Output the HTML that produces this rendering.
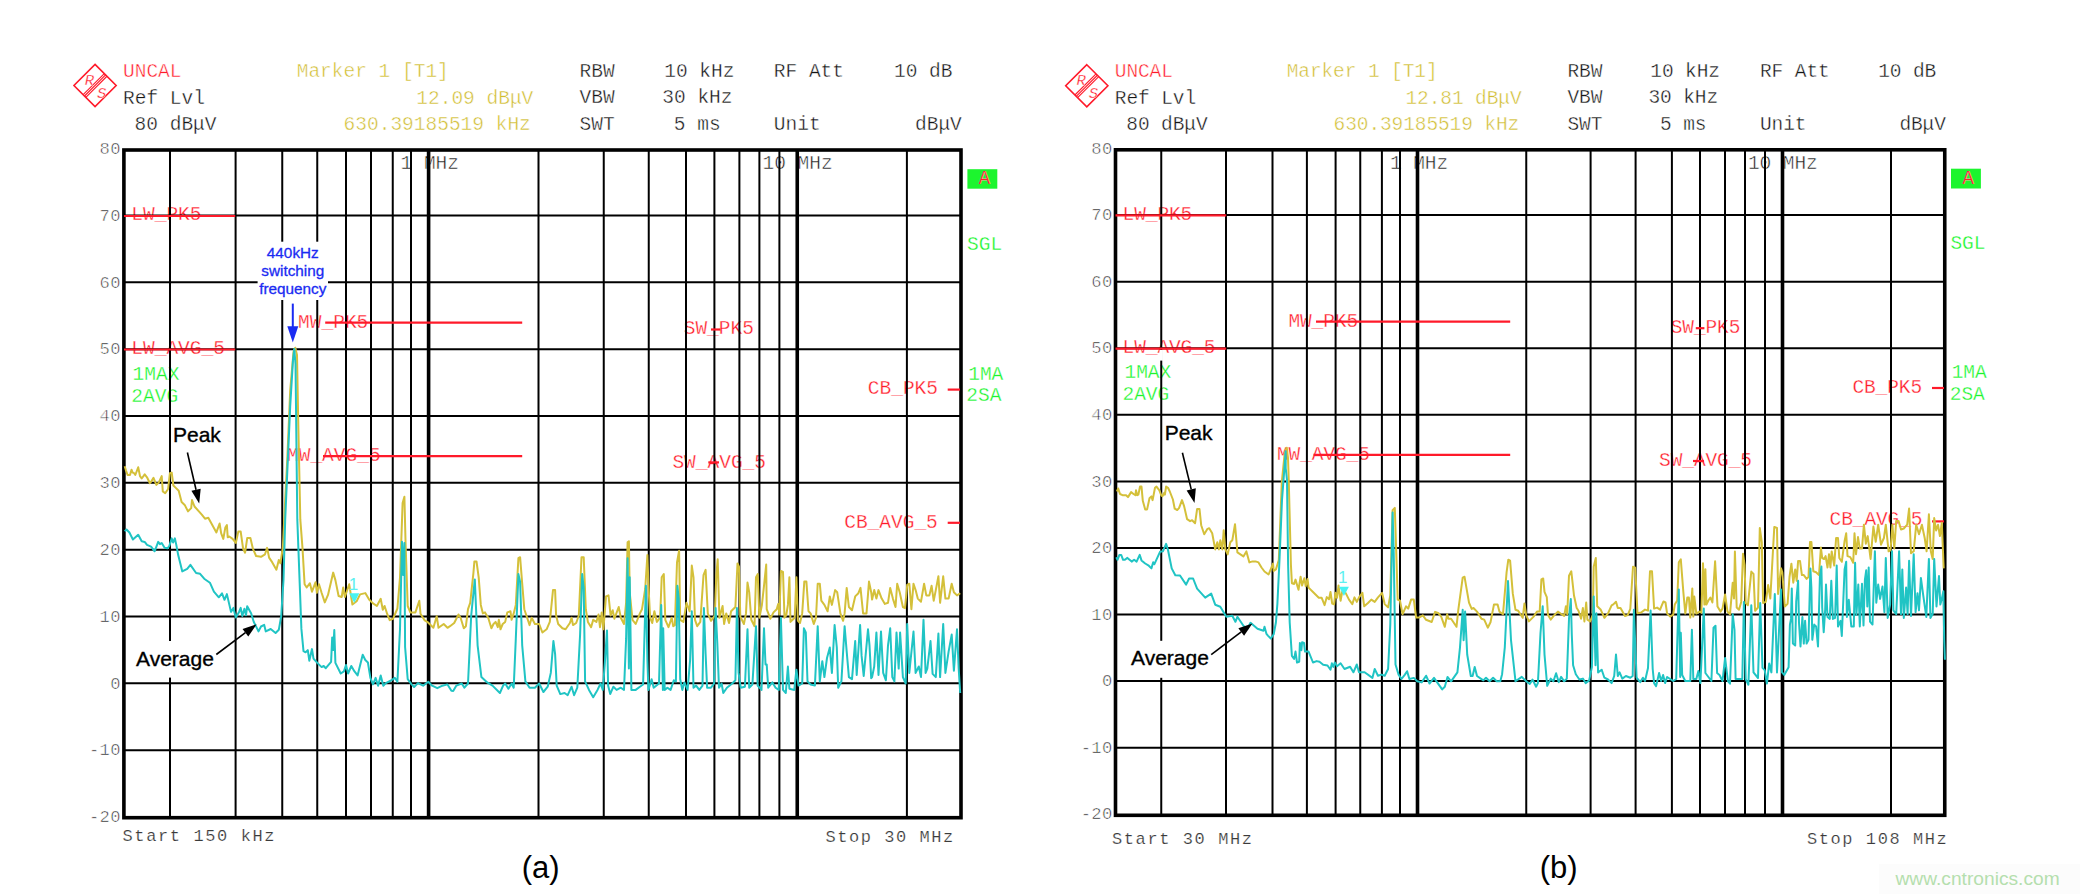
<!DOCTYPE html><html><head><meta charset="utf-8"><style>html,body{margin:0;padding:0;background:#fff;width:2080px;height:894px;overflow:hidden}svg{display:block}</style></head><body>
<svg width="2080" height="894" viewBox="0 0 2080 894">
<rect width="2080" height="894" fill="#fff"/>
<text x="123.00" y="76.70" font-family="Liberation Mono, monospace" font-size="19.5" letter-spacing="0.000" fill="#ff1a2a" stroke="#fff" stroke-width="0.45" >UNCAL</text>
<text x="296.70" y="76.60" font-family="Liberation Mono, monospace" font-size="19.5" letter-spacing="0.000" fill="#d0bc30" stroke="#fff" stroke-width="0.45" >Marker 1 [T1]</text>
<text x="579.60" y="76.50" font-family="Liberation Mono, monospace" font-size="19.5" letter-spacing="0.000" fill="#151515" stroke="#fff" stroke-width="0.38" >RBW</text>
<text x="664.20" y="76.50" font-family="Liberation Mono, monospace" font-size="19.5" letter-spacing="0.000" fill="#151515" stroke="#fff" stroke-width="0.38" >10 kHz</text>
<text x="773.80" y="76.50" font-family="Liberation Mono, monospace" font-size="19.5" letter-spacing="0.000" fill="#151515" stroke="#fff" stroke-width="0.38" >RF Att</text>
<text x="894.00" y="76.50" font-family="Liberation Mono, monospace" font-size="19.5" letter-spacing="0.000" fill="#151515" stroke="#fff" stroke-width="0.38" >10 dB</text>
<text x="123.00" y="103.50" font-family="Liberation Mono, monospace" font-size="19.5" letter-spacing="0.000" fill="#151515" stroke="#fff" stroke-width="0.38" >Ref Lvl</text>
<text x="416.30" y="103.70" font-family="Liberation Mono, monospace" font-size="19.5" letter-spacing="0.000" fill="#d0bc30" stroke="#fff" stroke-width="0.45" >12.09 dBμV</text>
<text x="579.60" y="103.20" font-family="Liberation Mono, monospace" font-size="19.5" letter-spacing="0.000" fill="#151515" stroke="#fff" stroke-width="0.38" >VBW</text>
<text x="662.30" y="103.20" font-family="Liberation Mono, monospace" font-size="19.5" letter-spacing="0.000" fill="#151515" stroke="#fff" stroke-width="0.38" >30 kHz</text>
<text x="134.60" y="130.20" font-family="Liberation Mono, monospace" font-size="19.5" letter-spacing="0.000" fill="#151515" stroke="#fff" stroke-width="0.38" >80 dBμV</text>
<text x="343.60" y="130.20" font-family="Liberation Mono, monospace" font-size="19.5" letter-spacing="0.000" fill="#d0bc30" stroke="#fff" stroke-width="0.45" >630.39185519 kHz</text>
<text x="579.60" y="129.80" font-family="Liberation Mono, monospace" font-size="19.5" letter-spacing="0.000" fill="#151515" stroke="#fff" stroke-width="0.38" >SWT</text>
<text x="673.80" y="129.80" font-family="Liberation Mono, monospace" font-size="19.5" letter-spacing="0.000" fill="#151515" stroke="#fff" stroke-width="0.38" >5 ms</text>
<text x="773.80" y="129.80" font-family="Liberation Mono, monospace" font-size="19.5" letter-spacing="0.000" fill="#151515" stroke="#fff" stroke-width="0.38" >Unit</text>
<text x="915.00" y="129.80" font-family="Liberation Mono, monospace" font-size="19.5" letter-spacing="0.000" fill="#151515" stroke="#fff" stroke-width="0.38" >dBμV</text>
<text x="1114.80" y="76.70" font-family="Liberation Mono, monospace" font-size="19.5" letter-spacing="-0.100" fill="#ff1a2a" stroke="#fff" stroke-width="0.45" >UNCAL</text>
<text x="1286.70" y="76.60" font-family="Liberation Mono, monospace" font-size="19.5" letter-spacing="-0.100" fill="#d0bc30" stroke="#fff" stroke-width="0.45" >Marker 1 [T1]</text>
<text x="1567.50" y="76.50" font-family="Liberation Mono, monospace" font-size="19.5" letter-spacing="-0.100" fill="#151515" stroke="#fff" stroke-width="0.38" >RBW</text>
<text x="1650.30" y="76.50" font-family="Liberation Mono, monospace" font-size="19.5" letter-spacing="-0.100" fill="#151515" stroke="#fff" stroke-width="0.38" >10 kHz</text>
<text x="1760.00" y="76.50" font-family="Liberation Mono, monospace" font-size="19.5" letter-spacing="-0.100" fill="#151515" stroke="#fff" stroke-width="0.38" >RF Att</text>
<text x="1878.20" y="76.50" font-family="Liberation Mono, monospace" font-size="19.5" letter-spacing="-0.100" fill="#151515" stroke="#fff" stroke-width="0.38" >10 dB</text>
<text x="1114.80" y="103.50" font-family="Liberation Mono, monospace" font-size="19.5" letter-spacing="-0.100" fill="#151515" stroke="#fff" stroke-width="0.38" >Ref Lvl</text>
<text x="1405.50" y="103.70" font-family="Liberation Mono, monospace" font-size="19.5" letter-spacing="-0.100" fill="#d0bc30" stroke="#fff" stroke-width="0.45" >12.81 dBμV</text>
<text x="1567.50" y="103.20" font-family="Liberation Mono, monospace" font-size="19.5" letter-spacing="-0.100" fill="#151515" stroke="#fff" stroke-width="0.38" >VBW</text>
<text x="1648.40" y="103.20" font-family="Liberation Mono, monospace" font-size="19.5" letter-spacing="-0.100" fill="#151515" stroke="#fff" stroke-width="0.38" >30 kHz</text>
<text x="1126.30" y="130.20" font-family="Liberation Mono, monospace" font-size="19.5" letter-spacing="-0.100" fill="#151515" stroke="#fff" stroke-width="0.38" >80 dBμV</text>
<text x="1333.60" y="130.20" font-family="Liberation Mono, monospace" font-size="19.5" letter-spacing="-0.100" fill="#d0bc30" stroke="#fff" stroke-width="0.45" >630.39185519 kHz</text>
<text x="1567.50" y="129.80" font-family="Liberation Mono, monospace" font-size="19.5" letter-spacing="-0.100" fill="#151515" stroke="#fff" stroke-width="0.38" >SWT</text>
<text x="1660.00" y="129.80" font-family="Liberation Mono, monospace" font-size="19.5" letter-spacing="-0.100" fill="#151515" stroke="#fff" stroke-width="0.38" >5 ms</text>
<text x="1760.00" y="129.80" font-family="Liberation Mono, monospace" font-size="19.5" letter-spacing="-0.100" fill="#151515" stroke="#fff" stroke-width="0.38" >Unit</text>
<text x="1899.40" y="129.80" font-family="Liberation Mono, monospace" font-size="19.5" letter-spacing="-0.100" fill="#151515" stroke="#fff" stroke-width="0.38" >dBμV</text>
<text x="400.50" y="169.00" font-family="Liberation Mono, monospace" font-size="19.5" letter-spacing="0.000" fill="#1a1a1a" stroke="#fff" stroke-width="0.5" >1 MHz</text>
<text x="762.50" y="169.00" font-family="Liberation Mono, monospace" font-size="19.5" letter-spacing="0.000" fill="#1a1a1a" stroke="#fff" stroke-width="0.5" >10 MHz</text>
<text x="1390.00" y="169.00" font-family="Liberation Mono, monospace" font-size="19.5" letter-spacing="-0.100" fill="#1a1a1a" stroke="#fff" stroke-width="0.5" >1 MHz</text>
<text x="1748.00" y="169.00" font-family="Liberation Mono, monospace" font-size="19.5" letter-spacing="-0.100" fill="#1a1a1a" stroke="#fff" stroke-width="0.5" >10 MHz</text>
<text x="120.80" y="153.90" font-family="Liberation Mono, monospace" font-size="17.2" letter-spacing="0.3" text-anchor="end" fill="#222" stroke="#fff" stroke-width="0.6">80</text>
<text x="120.80" y="220.73" font-family="Liberation Mono, monospace" font-size="17.2" letter-spacing="0.3" text-anchor="end" fill="#222" stroke="#fff" stroke-width="0.6">70</text>
<text x="120.80" y="287.56" font-family="Liberation Mono, monospace" font-size="17.2" letter-spacing="0.3" text-anchor="end" fill="#222" stroke="#fff" stroke-width="0.6">60</text>
<text x="120.80" y="354.39" font-family="Liberation Mono, monospace" font-size="17.2" letter-spacing="0.3" text-anchor="end" fill="#222" stroke="#fff" stroke-width="0.6">50</text>
<text x="120.80" y="421.22" font-family="Liberation Mono, monospace" font-size="17.2" letter-spacing="0.3" text-anchor="end" fill="#222" stroke="#fff" stroke-width="0.6">40</text>
<text x="120.80" y="488.05" font-family="Liberation Mono, monospace" font-size="17.2" letter-spacing="0.3" text-anchor="end" fill="#222" stroke="#fff" stroke-width="0.6">30</text>
<text x="120.80" y="554.88" font-family="Liberation Mono, monospace" font-size="17.2" letter-spacing="0.3" text-anchor="end" fill="#222" stroke="#fff" stroke-width="0.6">20</text>
<text x="120.80" y="621.71" font-family="Liberation Mono, monospace" font-size="17.2" letter-spacing="0.3" text-anchor="end" fill="#222" stroke="#fff" stroke-width="0.6">10</text>
<text x="120.80" y="688.54" font-family="Liberation Mono, monospace" font-size="17.2" letter-spacing="0.3" text-anchor="end" fill="#222" stroke="#fff" stroke-width="0.6">0</text>
<text x="120.80" y="755.37" font-family="Liberation Mono, monospace" font-size="17.2" letter-spacing="0.3" text-anchor="end" fill="#222" stroke="#fff" stroke-width="0.6">-10</text>
<text x="120.80" y="822.20" font-family="Liberation Mono, monospace" font-size="17.2" letter-spacing="0.3" text-anchor="end" fill="#222" stroke="#fff" stroke-width="0.6">-20</text>
<text x="1112.50" y="153.70" font-family="Liberation Mono, monospace" font-size="17.2" letter-spacing="0.3" text-anchor="end" fill="#222" stroke="#fff" stroke-width="0.6">80</text>
<text x="1112.50" y="220.27" font-family="Liberation Mono, monospace" font-size="17.2" letter-spacing="0.3" text-anchor="end" fill="#222" stroke="#fff" stroke-width="0.6">70</text>
<text x="1112.50" y="286.85" font-family="Liberation Mono, monospace" font-size="17.2" letter-spacing="0.3" text-anchor="end" fill="#222" stroke="#fff" stroke-width="0.6">60</text>
<text x="1112.50" y="353.43" font-family="Liberation Mono, monospace" font-size="17.2" letter-spacing="0.3" text-anchor="end" fill="#222" stroke="#fff" stroke-width="0.6">50</text>
<text x="1112.50" y="420.00" font-family="Liberation Mono, monospace" font-size="17.2" letter-spacing="0.3" text-anchor="end" fill="#222" stroke="#fff" stroke-width="0.6">40</text>
<text x="1112.50" y="486.57" font-family="Liberation Mono, monospace" font-size="17.2" letter-spacing="0.3" text-anchor="end" fill="#222" stroke="#fff" stroke-width="0.6">30</text>
<text x="1112.50" y="553.15" font-family="Liberation Mono, monospace" font-size="17.2" letter-spacing="0.3" text-anchor="end" fill="#222" stroke="#fff" stroke-width="0.6">20</text>
<text x="1112.50" y="619.73" font-family="Liberation Mono, monospace" font-size="17.2" letter-spacing="0.3" text-anchor="end" fill="#222" stroke="#fff" stroke-width="0.6">10</text>
<text x="1112.50" y="686.30" font-family="Liberation Mono, monospace" font-size="17.2" letter-spacing="0.3" text-anchor="end" fill="#222" stroke="#fff" stroke-width="0.6">0</text>
<text x="1112.50" y="752.88" font-family="Liberation Mono, monospace" font-size="17.2" letter-spacing="0.3" text-anchor="end" fill="#222" stroke="#fff" stroke-width="0.6">-10</text>
<text x="1112.50" y="819.45" font-family="Liberation Mono, monospace" font-size="17.2" letter-spacing="0.3" text-anchor="end" fill="#222" stroke="#fff" stroke-width="0.6">-20</text>
<text x="131.30" y="220.20" font-family="Liberation Mono, monospace" font-size="19.5" letter-spacing="0.000" fill="#ff1a2a" stroke="#fff" stroke-width="0.3" >LW_PK5</text>
<text x="131.30" y="353.90" font-family="Liberation Mono, monospace" font-size="19.5" letter-spacing="0.000" fill="#ff1a2a" stroke="#fff" stroke-width="0.3" >LW_AVG_5</text>
<text x="298.10" y="327.90" font-family="Liberation Mono, monospace" font-size="19.5" letter-spacing="0.000" fill="#ff1a2a" stroke="#fff" stroke-width="0.3" >MW_PK5</text>
<text x="287.00" y="461.00" font-family="Liberation Mono, monospace" font-size="19.5" letter-spacing="0.000" fill="#ff1a2a" stroke="#fff" stroke-width="0.3" >MW_AVG_5</text>
<text x="683.70" y="333.50" font-family="Liberation Mono, monospace" font-size="19.5" letter-spacing="0.000" fill="#ff1a2a" stroke="#fff" stroke-width="0.3" >SW_PK5</text>
<text x="672.40" y="467.70" font-family="Liberation Mono, monospace" font-size="19.5" letter-spacing="0.000" fill="#ff1a2a" stroke="#fff" stroke-width="0.3" >SW_AVG_5</text>
<text x="867.80" y="394.00" font-family="Liberation Mono, monospace" font-size="19.5" letter-spacing="0.000" fill="#ff1a2a" stroke="#fff" stroke-width="0.3" >CB_PK5</text>
<text x="844.20" y="528.10" font-family="Liberation Mono, monospace" font-size="19.5" letter-spacing="0.000" fill="#ff1a2a" stroke="#fff" stroke-width="0.3" >CB_AVG_5</text>
<text x="132.60" y="379.80" font-family="Liberation Mono, monospace" font-size="19.5" letter-spacing="0.000" fill="#1cf52e" stroke="#fff" stroke-width="0.3" >1MAX</text>
<text x="131.30" y="401.50" font-family="Liberation Mono, monospace" font-size="19.5" letter-spacing="0.000" fill="#1cf52e" stroke="#fff" stroke-width="0.3" >2AVG</text>
<text x="968.20" y="379.70" font-family="Liberation Mono, monospace" font-size="19.5" letter-spacing="0.000" fill="#1cf52e" stroke="#fff" stroke-width="0.3" >1MA</text>
<text x="966.30" y="401.40" font-family="Liberation Mono, monospace" font-size="19.5" letter-spacing="0.000" fill="#1cf52e" stroke="#fff" stroke-width="0.3" >2SA</text>
<text x="967.00" y="249.50" font-family="Liberation Mono, monospace" font-size="19.5" letter-spacing="0.000" fill="#1cf52e" stroke="#fff" stroke-width="0.3" >SGL</text>
<rect x="967.4" y="169.2" width="29.9" height="19.5" fill="#1cf52e"/>
<text x="978.60" y="184.40" font-family="Liberation Mono, monospace" font-size="19.5" letter-spacing="0.000" fill="#ff1a2a" stroke="#fff" stroke-width="0.2" >A</text>
<text x="1122.60" y="219.60" font-family="Liberation Mono, monospace" font-size="19.5" letter-spacing="-0.100" fill="#ff1a2a" stroke="#fff" stroke-width="0.3" >LW_PK5</text>
<text x="1122.60" y="353.00" font-family="Liberation Mono, monospace" font-size="19.5" letter-spacing="-0.100" fill="#ff1a2a" stroke="#fff" stroke-width="0.3" >LW_AVG_5</text>
<text x="1288.40" y="326.90" font-family="Liberation Mono, monospace" font-size="19.5" letter-spacing="-0.100" fill="#ff1a2a" stroke="#fff" stroke-width="0.3" >MW_PK5</text>
<text x="1277.00" y="460.20" font-family="Liberation Mono, monospace" font-size="19.5" letter-spacing="-0.100" fill="#ff1a2a" stroke="#fff" stroke-width="0.3" >MW_AVG_5</text>
<text x="1670.70" y="333.00" font-family="Liberation Mono, monospace" font-size="19.5" letter-spacing="-0.100" fill="#ff1a2a" stroke="#fff" stroke-width="0.3" >SW_PK5</text>
<text x="1659.10" y="466.40" font-family="Liberation Mono, monospace" font-size="19.5" letter-spacing="-0.100" fill="#ff1a2a" stroke="#fff" stroke-width="0.3" >SW_AVG_5</text>
<text x="1852.40" y="392.60" font-family="Liberation Mono, monospace" font-size="19.5" letter-spacing="-0.100" fill="#ff1a2a" stroke="#fff" stroke-width="0.3" >CB_PK5</text>
<text x="1829.60" y="524.90" font-family="Liberation Mono, monospace" font-size="19.5" letter-spacing="-0.100" fill="#ff1a2a" stroke="#fff" stroke-width="0.3" >CB_AVG_5</text>
<text x="1124.60" y="378.20" font-family="Liberation Mono, monospace" font-size="19.5" letter-spacing="-0.100" fill="#1cf52e" stroke="#fff" stroke-width="0.3" >1MAX</text>
<text x="1122.60" y="400.30" font-family="Liberation Mono, monospace" font-size="19.5" letter-spacing="-0.100" fill="#1cf52e" stroke="#fff" stroke-width="0.3" >2AVG</text>
<text x="1951.70" y="378.40" font-family="Liberation Mono, monospace" font-size="19.5" letter-spacing="-0.100" fill="#1cf52e" stroke="#fff" stroke-width="0.3" >1MA</text>
<text x="1949.80" y="399.80" font-family="Liberation Mono, monospace" font-size="19.5" letter-spacing="-0.100" fill="#1cf52e" stroke="#fff" stroke-width="0.3" >2SA</text>
<text x="1950.50" y="248.90" font-family="Liberation Mono, monospace" font-size="19.5" letter-spacing="-0.100" fill="#1cf52e" stroke="#fff" stroke-width="0.3" >SGL</text>
<rect x="1951" y="168.7" width="29.9" height="19.8" fill="#1cf52e"/>
<text x="1962.30" y="184.20" font-family="Liberation Mono, monospace" font-size="19.5" letter-spacing="0.000" fill="#ff1a2a" stroke="#fff" stroke-width="0.2" >A</text>
<line x1="123.9" y1="215.53" x2="961.0" y2="215.53" stroke="#000" stroke-width="2"/>
<line x1="123.9" y1="282.36" x2="961.0" y2="282.36" stroke="#000" stroke-width="2"/>
<line x1="123.9" y1="349.19" x2="961.0" y2="349.19" stroke="#000" stroke-width="2"/>
<line x1="123.9" y1="416.02" x2="961.0" y2="416.02" stroke="#000" stroke-width="2"/>
<line x1="123.9" y1="482.85" x2="961.0" y2="482.85" stroke="#000" stroke-width="2"/>
<line x1="123.9" y1="549.68" x2="961.0" y2="549.68" stroke="#000" stroke-width="2"/>
<line x1="123.9" y1="616.51" x2="961.0" y2="616.51" stroke="#000" stroke-width="2"/>
<line x1="123.9" y1="683.34" x2="961.0" y2="683.34" stroke="#000" stroke-width="2"/>
<line x1="123.9" y1="750.17" x2="961.0" y2="750.17" stroke="#000" stroke-width="2"/>
<line x1="170" y1="150.0" x2="170" y2="817.7" stroke="#000" stroke-width="2"/>
<line x1="235.6" y1="150.0" x2="235.6" y2="817.7" stroke="#000" stroke-width="2"/>
<line x1="282.25" y1="150.0" x2="282.25" y2="817.7" stroke="#000" stroke-width="2"/>
<line x1="317.25" y1="150.0" x2="317.25" y2="817.7" stroke="#000" stroke-width="2"/>
<line x1="346" y1="150.0" x2="346" y2="817.7" stroke="#000" stroke-width="2"/>
<line x1="371" y1="150.0" x2="371" y2="817.7" stroke="#000" stroke-width="2"/>
<line x1="392.75" y1="150.0" x2="392.75" y2="817.7" stroke="#000" stroke-width="2"/>
<line x1="411" y1="150.0" x2="411" y2="817.7" stroke="#000" stroke-width="2"/>
<line x1="538.5" y1="150.0" x2="538.5" y2="817.7" stroke="#000" stroke-width="2"/>
<line x1="603.75" y1="150.0" x2="603.75" y2="817.7" stroke="#000" stroke-width="2"/>
<line x1="648.75" y1="150.0" x2="648.75" y2="817.7" stroke="#000" stroke-width="2"/>
<line x1="686" y1="150.0" x2="686" y2="817.7" stroke="#000" stroke-width="2"/>
<line x1="714.4" y1="150.0" x2="714.4" y2="817.7" stroke="#000" stroke-width="2"/>
<line x1="739.4" y1="150.0" x2="739.4" y2="817.7" stroke="#000" stroke-width="2"/>
<line x1="759.4" y1="150.0" x2="759.4" y2="817.7" stroke="#000" stroke-width="2"/>
<line x1="779.4" y1="150.0" x2="779.4" y2="817.7" stroke="#000" stroke-width="2"/>
<line x1="906.9" y1="150.0" x2="906.9" y2="817.7" stroke="#000" stroke-width="2"/>
<line x1="428.6" y1="150.0" x2="428.6" y2="817.7" stroke="#000" stroke-width="3.6"/>
<line x1="797.25" y1="150.0" x2="797.25" y2="817.7" stroke="#000" stroke-width="3.6"/>
<rect x="123.9" y="150.0" width="837.1" height="667.7" fill="none" stroke="#000" stroke-width="3.6"/>
<line x1="1115.5" y1="215.07" x2="1944.75" y2="215.07" stroke="#000" stroke-width="2"/>
<line x1="1115.5" y1="281.65" x2="1944.75" y2="281.65" stroke="#000" stroke-width="2"/>
<line x1="1115.5" y1="348.23" x2="1944.75" y2="348.23" stroke="#000" stroke-width="2"/>
<line x1="1115.5" y1="414.80" x2="1944.75" y2="414.80" stroke="#000" stroke-width="2"/>
<line x1="1115.5" y1="481.38" x2="1944.75" y2="481.38" stroke="#000" stroke-width="2"/>
<line x1="1115.5" y1="547.95" x2="1944.75" y2="547.95" stroke="#000" stroke-width="2"/>
<line x1="1115.5" y1="614.53" x2="1944.75" y2="614.53" stroke="#000" stroke-width="2"/>
<line x1="1115.5" y1="681.10" x2="1944.75" y2="681.10" stroke="#000" stroke-width="2"/>
<line x1="1115.5" y1="747.68" x2="1944.75" y2="747.68" stroke="#000" stroke-width="2"/>
<line x1="1161.25" y1="149.8" x2="1161.25" y2="815.3" stroke="#000" stroke-width="2"/>
<line x1="1226" y1="149.8" x2="1226" y2="815.3" stroke="#000" stroke-width="2"/>
<line x1="1272.5" y1="149.8" x2="1272.5" y2="815.3" stroke="#000" stroke-width="2"/>
<line x1="1306.9" y1="149.8" x2="1306.9" y2="815.3" stroke="#000" stroke-width="2"/>
<line x1="1335.6" y1="149.8" x2="1335.6" y2="815.3" stroke="#000" stroke-width="2"/>
<line x1="1360.25" y1="149.8" x2="1360.25" y2="815.3" stroke="#000" stroke-width="2"/>
<line x1="1381.9" y1="149.8" x2="1381.9" y2="815.3" stroke="#000" stroke-width="2"/>
<line x1="1400" y1="149.8" x2="1400" y2="815.3" stroke="#000" stroke-width="2"/>
<line x1="1526.25" y1="149.8" x2="1526.25" y2="815.3" stroke="#000" stroke-width="2"/>
<line x1="1590.6" y1="149.8" x2="1590.6" y2="815.3" stroke="#000" stroke-width="2"/>
<line x1="1635.6" y1="149.8" x2="1635.6" y2="815.3" stroke="#000" stroke-width="2"/>
<line x1="1671.9" y1="149.8" x2="1671.9" y2="815.3" stroke="#000" stroke-width="2"/>
<line x1="1700" y1="149.8" x2="1700" y2="815.3" stroke="#000" stroke-width="2"/>
<line x1="1725" y1="149.8" x2="1725" y2="815.3" stroke="#000" stroke-width="2"/>
<line x1="1745" y1="149.8" x2="1745" y2="815.3" stroke="#000" stroke-width="2"/>
<line x1="1765" y1="149.8" x2="1765" y2="815.3" stroke="#000" stroke-width="2"/>
<line x1="1891" y1="149.8" x2="1891" y2="815.3" stroke="#000" stroke-width="2"/>
<line x1="1417.5" y1="149.8" x2="1417.5" y2="815.3" stroke="#000" stroke-width="3.6"/>
<line x1="1782.5" y1="149.8" x2="1782.5" y2="815.3" stroke="#000" stroke-width="3.6"/>
<rect x="1115.5" y="149.8" width="829.25" height="665.5" fill="none" stroke="#000" stroke-width="3.6"/>
<text x="122.50" y="841.00" font-family="Liberation Mono, monospace" font-size="17" fill="#3a3a3a" stroke="#fff" stroke-width="0.2" textLength="152.0" lengthAdjust="spacing">Start 150 kHz</text>
<text x="825.50" y="842.00" font-family="Liberation Mono, monospace" font-size="17" fill="#3a3a3a" stroke="#fff" stroke-width="0.2" textLength="127.8" lengthAdjust="spacing">Stop 30 MHz</text>
<text x="1112.00" y="844.00" font-family="Liberation Mono, monospace" font-size="17" fill="#3a3a3a" stroke="#fff" stroke-width="0.2" textLength="140.0" lengthAdjust="spacing">Start 30 MHz</text>
<text x="1807.10" y="844.00" font-family="Liberation Mono, monospace" font-size="17" fill="#3a3a3a" stroke="#fff" stroke-width="0.2" textLength="139.5" lengthAdjust="spacing">Stop 108 MHz</text>
<text x="540.70" y="878.00" font-family="Liberation Sans, sans-serif" font-size="31" fill="#000" text-anchor="middle" >(a)</text>
<text x="1558.70" y="877.60" font-family="Liberation Sans, sans-serif" font-size="31" fill="#000" text-anchor="middle" >(b)</text>
<rect x="1879" y="864" width="201" height="30" fill="#fcfcfc"/>
<text x="1895.50" y="885.00" font-family="Liberation Sans, sans-serif" font-size="19.2" fill="#b5dfae" text-anchor="start" >www.cntronics.com</text>
<path d="M95.05 64.35 L116.15 85.45 L95.05 106.55000000000001 L73.94999999999999 85.45 Z" fill="none" stroke="#ff1a2a" stroke-width="1.6"/>
<line x1="104.26" y1="73.56" x2="83.16" y2="94.66" stroke="#ff1a2a" stroke-width="1.1"/>
<line x1="105.60" y1="74.90" x2="84.50" y2="96.00" stroke="#ff1a2a" stroke-width="1.1"/>
<line x1="106.94" y1="76.24" x2="85.84" y2="97.34" stroke="#ff1a2a" stroke-width="1.1"/>
<text x="84.85" y="84.55" font-family="Liberation Mono, monospace" font-style="italic" font-size="15.5" fill="#ff1a2a" stroke="#fff" stroke-width="0.3">R</text>
<text x="96.95" y="97.95" font-family="Liberation Mono, monospace" font-style="italic" font-size="15.5" fill="#ff1a2a" stroke="#fff" stroke-width="0.3">S</text>
<path d="M1086.8 64.69999999999999 L1107.8999999999999 85.8 L1086.8 106.9 L1065.7 85.8 Z" fill="none" stroke="#ff1a2a" stroke-width="1.6"/>
<line x1="1096.01" y1="73.91" x2="1074.91" y2="95.01" stroke="#ff1a2a" stroke-width="1.1"/>
<line x1="1097.35" y1="75.25" x2="1076.25" y2="96.35" stroke="#ff1a2a" stroke-width="1.1"/>
<line x1="1098.69" y1="76.59" x2="1077.59" y2="97.69" stroke="#ff1a2a" stroke-width="1.1"/>
<text x="1076.60" y="84.90" font-family="Liberation Mono, monospace" font-style="italic" font-size="15.5" fill="#ff1a2a" stroke="#fff" stroke-width="0.3">R</text>
<text x="1088.70" y="98.30" font-family="Liberation Mono, monospace" font-style="italic" font-size="15.5" fill="#ff1a2a" stroke="#fff" stroke-width="0.3">S</text>
<line x1="124" y1="216.0" x2="235.2" y2="216.0" stroke="#ff1a2a" stroke-width="2.2"/>
<line x1="124" y1="349.5" x2="235.2" y2="349.5" stroke="#ff1a2a" stroke-width="2.2"/>
<line x1="325.2" y1="322.7" x2="522.2" y2="322.7" stroke="#ff1a2a" stroke-width="2.2"/>
<line x1="323.0" y1="456.1" x2="522.2" y2="456.1" stroke="#ff1a2a" stroke-width="2.2"/>
<line x1="711" y1="329.5" x2="720.5" y2="329.5" stroke="#ff1a2a" stroke-width="2.2"/>
<line x1="708.3" y1="462.4" x2="719" y2="462.4" stroke="#ff1a2a" stroke-width="2.2"/>
<line x1="947.7" y1="389.6" x2="960" y2="389.6" stroke="#ff1a2a" stroke-width="2.2"/>
<line x1="947.7" y1="522.8" x2="960" y2="522.8" stroke="#ff1a2a" stroke-width="2.2"/>
<line x1="1115.5" y1="215.3" x2="1226.2" y2="215.3" stroke="#ff1a2a" stroke-width="2.2"/>
<line x1="1115.5" y1="348.7" x2="1226.2" y2="348.7" stroke="#ff1a2a" stroke-width="2.2"/>
<line x1="1316" y1="321.7" x2="1510.2" y2="321.7" stroke="#ff1a2a" stroke-width="2.2"/>
<line x1="1313.5" y1="454.9" x2="1510.2" y2="454.9" stroke="#ff1a2a" stroke-width="2.2"/>
<line x1="1695.8" y1="328.2" x2="1704.4" y2="328.2" stroke="#ff1a2a" stroke-width="2.2"/>
<line x1="1693" y1="461.0" x2="1704" y2="461.0" stroke="#ff1a2a" stroke-width="2.2"/>
<line x1="1932" y1="388.0" x2="1944" y2="388.0" stroke="#ff1a2a" stroke-width="2.2"/>
<line x1="1932" y1="521.4" x2="1944" y2="521.4" stroke="#ff1a2a" stroke-width="2.2"/>
<rect x="1159.6" y="350.0" width="3.3" height="10.6" fill="#fff"/>
<polyline points="124.7,466.2 125.9,470.3 127.6,475.0 130.0,475.0 131.5,469.7 132.7,472.6 134.1,473.2 135.3,475.0 138.2,467.3 140.0,476.1 141.7,478.5 144.7,474.4 147.0,477.3 149.9,483.2 151.7,480.8 153.5,477.9 156.4,484.9 158.7,482.6 161.7,476.1 162.8,491.4 165.2,493.2 168.1,489.0 169.9,473.2 171.7,472.6 173.4,485.5 175.8,487.9 178.7,490.8 181.6,502.0 184.7,504.9 188.0,511.4 191.2,508.1 192.0,500.0 194.5,506.5 201.8,514.6 205.0,518.7 208.3,517.8 216.4,532.4 219.6,523.5 221.2,533.3 223.3,538.9 225.3,527.6 226.9,525.1 227.7,537.3 229.3,536.5 232.6,538.9 235.8,543.0 238.3,531.6 240.7,531.6 243.1,548.7 245.1,552.7 247.2,538.1 250.4,538.1 252.9,548.7 256.1,556.0 261.0,556.8 265.0,554.3 267.1,547.9 269.1,557.6 272.3,562.4 276.4,569.7 278.8,560.0 280.4,563.3 282.9,547.0 284.2,519.4 287.2,461.0 290.2,390.4 293.5,352.0 295.3,347.7 297.0,355.0 298.3,424.7 300.3,519.4 302.5,548.2 304.6,584.3 306.7,587.5 309.9,583.2 312.0,591.7 315.6,582.2 316.9,592.8 319.0,584.3 321.6,592.8 324.8,602.4 328.0,594.9 333.2,572.6 335.4,580.1 338.6,596.0 341.7,597.0 343.2,587.5 344.9,597.0 349.2,584.3 352.4,604.5 356.6,601.3 360.1,594.4 365.3,593.1 369.1,599.5 373.0,603.4 376.9,606.0 380.7,598.8 382.8,609.8 384.6,606.0 387.1,613.7 389.7,620.1 393.0,618.8 397.4,608.5 400.0,577.7 402.6,503.1 404.4,496.7 405.6,544.3 407.7,606.0 410.3,612.4 415.4,612.4 419.3,600.8 420.5,613.7 424.4,620.1 428.3,622.7 433.4,627.8 436.7,616.2 438.5,627.8 443.7,624.0 447.5,627.8 450.0,626.2 454.2,623.0 458.5,614.5 460.6,617.7 463.8,628.3 465.9,626.2 468.0,609.2 470.2,602.8 473.4,573.1 474.4,561.4 476.5,561.4 478.7,577.3 480.8,604.9 482.9,613.4 485.0,612.4 488.2,617.7 491.4,628.3 493.5,624.0 495.6,621.9 497.8,627.2 498.8,619.8 500.5,629.3 502.7,624.0 505.2,621.9 507.3,612.4 510.5,611.3 511.6,619.8 513.7,613.4 515.8,604.9 518.4,558.2 520.1,557.2 522.2,583.7 524.3,609.2 526.4,615.5 529.6,625.1 531.7,617.7 534.9,624.0 539.2,624.0 542.4,632.5 546.6,629.3 549.8,621.9 553.0,590.1 555.1,590.1 556.1,615.5 558.2,624.0 562.4,628.3 565.6,629.3 569.9,623.0 571.6,617.7 573.0,625.1 576.2,623.0 578.8,615.5 581.5,557.2 583.7,557.2 585.8,609.2 587.9,621.9 591.1,627.2 593.2,619.8 596.4,621.9 598.5,614.5 600.0,627.2 601.7,612.4 603.4,629.3 606.0,596.4 608.5,595.4 610.6,615.5 612.7,610.2 614.4,618.7 618.7,607.0 620.8,617.7 624.0,624.0 626.1,602.8 627.6,542.3 628.9,541.2 629.7,592.2 632.5,619.8 635.7,624.0 639.9,613.4 642.0,609.2 645.2,589.0 647.4,555.0 648.4,583.7 650.1,617.7 652.2,623.0 654.4,611.3 656.9,621.9 660.1,617.7 661.7,577.3 663.8,574.1 665.3,619.8 668.5,627.2 671.7,617.7 673.2,626.2 674.9,625.1 677.0,562.5 679.1,550.8 680.2,619.8 683.4,621.9 686.5,602.8 689.7,611.3 691.8,565.6 693.5,577.3 695.0,619.8 697.2,626.2 700.3,621.9 703.5,575.2 705.6,569.9 707.8,613.4 711.0,620.8 714.8,615.5 716.3,575.2 717.7,559.3 719.4,617.7 722.6,606.0 724.1,624.0 726.2,613.4 729.0,623.0 731.1,611.3 735.4,607.0 737.5,563.5 739.0,566.7 740.3,616.6 743.9,624.0 746.0,613.4 747.5,582.6 749.2,592.2 751.3,619.8 754.5,626.2 756.0,577.3 757.7,574.1 759.4,617.7 761.9,605.0 764.0,585.8 766.2,564.6 766.7,609.2 770.3,618.7 773.5,612.4 776.7,609.2 778.2,603.9 779.4,614.5 780.9,571.0 783.0,572.0 784.5,617.7 786.2,615.5 787.9,604.9 789.4,577.3 790.5,621.9 792.6,619.8 794.7,617.7 796.4,577.3 797.9,620.8 800.0,623.0 802.2,613.4 804.3,581.6 806.4,581.6 808.5,611.3 810.6,613.4 813.8,624.0 816.0,617.7 817.7,583.7 819.8,583.7 821.3,600.7 824.4,604.9 827.6,611.3 829.8,596.4 831.9,604.9 835.1,590.1 837.2,592.2 840.4,613.4 843.1,620.8 844.6,613.4 846.7,587.9 848.9,607.0 852.0,610.2 855.2,596.4 858.4,593.2 860.5,587.9 863.1,613.4 866.5,613.4 869.0,581.6 871.2,592.2 872.1,599.6 874.2,590.1 876.4,598.6 878.5,590.1 881.7,598.6 884.9,603.9 888.0,602.8 890.2,587.9 892.9,598.6 895.5,607.0 897.2,583.7 899.7,592.2 902.9,607.0 905.0,608.1 907.2,584.8 909.3,583.7 911.4,609.2 913.5,583.7 915.6,590.1 917.8,598.6 921.0,601.7 924.1,583.7 926.3,595.4 929.4,595.4 931.6,585.8 933.7,600.7 935.8,590.1 938.4,576.3 940.1,602.8 943.2,576.3 945.4,598.6 948.6,598.6 951.7,583.7 953.9,592.2 957.0,595.4 960.2,593.2" fill="none" stroke="#d4c03a" stroke-width="2.0" stroke-linejoin="round"/>
<polyline points="124.7,531.3 126.5,529.5 129.4,532.5 132.9,539.5 138.2,534.8 141.7,541.3 144.7,541.9 147.0,544.8 151.1,546.6 154.6,551.3 158.2,541.9 159.9,544.2 161.7,543.0 164.6,547.7 167.5,548.3 169.3,546.0 171.7,538.4 173.1,542.5 174.9,538.4 176.4,545.4 178.2,555.1 182.3,571.4 187.2,568.9 190.4,564.9 196.1,573.0 200.1,573.8 204.2,578.7 209.9,582.7 213.9,591.6 218.8,597.3 222.0,593.3 224.5,599.8 226.9,594.1 231.0,611.9 233.4,607.9 235.8,617.6 239.1,611.9 240.7,607.9 242.3,616.0 244.4,608.7 246.0,615.2 247.2,606.2 251.2,613.5 253.7,621.7 258.5,631.4 261.0,626.5 264.2,624.9 265.8,631.4 270.7,629.0 275.6,633.0 278.8,629.8 281.2,616.2 283.5,580.0 285.2,519.4 290.2,406.5 293.0,360.0 294.3,349.0 295.5,364.0 297.3,519.4 301.4,628.9 303.5,651.2 305.6,652.3 307.8,650.1 309.3,660.7 312.0,649.1 313.5,658.6 317.3,662.9 321.6,667.1 323.7,666.0 325.8,668.2 331.1,661.8 332.2,637.4 333.2,650.1 334.3,630.0 335.4,662.9 340.7,673.5 343.9,671.4 346.0,665.0 348.1,673.5 351.3,666.0 354.5,671.4 357.6,675.4 362.7,654.8 365.3,660.0 367.9,662.5 370.4,677.9 373.0,684.4 375.6,677.9 378.1,685.7 380.7,675.4 383.3,685.7 385.8,683.1 391.0,680.5 394.8,677.9 397.4,681.8 400.0,629.1 402.0,541.7 403.3,575.1 404.4,543.0 405.1,647.1 407.7,679.2 411.6,684.4 414.1,687.0 418.0,683.1 423.1,685.7 428.3,681.8 432.1,685.7 437.3,688.2 442.4,685.7 447.5,684.4 451.4,690.8 453.2,690.9 456.4,685.6 461.7,683.5 464.4,687.7 468.0,683.5 471.2,615.5 474.8,579.4 477.6,645.3 481.4,677.1 487.2,682.4 492.5,685.6 499.9,693.0 503.1,685.6 505.2,683.5 508.4,688.8 511.6,683.5 513.7,687.7 515.8,638.9 518.4,574.1 520.1,581.6 522.2,645.3 525.4,681.4 529.6,687.7 534.9,687.7 539.2,683.5 543.4,692.0 547.7,686.7 550.8,672.9 553.4,641.0 555.1,653.8 556.7,685.6 560.3,694.1 564.6,693.0 567.7,695.2 571.6,686.7 574.1,695.2 577.3,687.7 580.1,634.6 582.2,574.1 583.7,587.9 585.1,681.4 589.0,689.9 593.2,697.3 597.5,689.9 600.6,683.5 602.8,689.9 604.9,662.3 607.0,630.4 608.1,685.6 610.2,694.1 613.4,686.7 616.6,689.9 620.8,687.7 624.0,689.9 626.1,638.9 627.6,558.2 628.9,668.6 629.7,577.3 631.4,689.9 635.7,689.9 639.9,686.7 643.1,684.5 645.9,585.8 647.4,660.1 648.4,689.9 651.6,679.2 653.7,687.7 659.0,683.5 661.2,604.9 662.9,689.9 663.2,628.3 664.7,689.9 667.4,687.7 670.6,689.9 673.8,680.3 675.9,681.4 677.4,585.8 678.7,598.6 680.2,679.2 682.3,689.9 684.4,682.4 687.6,689.9 690.1,660.1 691.8,611.3 693.5,687.7 696.1,685.6 699.3,689.9 702.5,685.6 703.9,608.1 705.6,653.8 707.1,687.7 711.0,687.7 714.1,683.5 715.6,608.1 717.3,643.1 719.0,687.7 721.6,683.5 723.3,693.0 726.9,687.7 732.2,683.5 735.4,680.3 736.9,608.1 738.6,672.9 740.7,687.7 744.9,686.7 747.5,629.3 749.2,687.7 752.4,684.5 756.0,626.2 757.7,685.6 761.5,689.9 764.0,628.3 765.5,664.4 766.7,664.4 768.2,687.7 772.4,682.4 775.6,687.7 778.8,689.9 780.9,617.7 783.0,689.9 785.8,693.0 787.9,666.5 789.4,688.8 794.3,689.9 796.4,669.7 798.5,685.6 802.2,683.5 803.9,628.3 805.8,632.5 807.5,681.4 810.6,684.5 814.9,685.6 817.7,626.2 819.8,681.4 822.3,661.2 824.4,677.1 827.0,658.0 829.8,647.4 831.9,672.9 834.6,625.1 836.8,647.4 838.2,687.7 841.4,681.4 844.6,626.2 846.7,651.6 848.9,677.1 852.0,679.2 855.2,641.0 856.7,675.0 860.1,625.1 861.6,655.9 863.7,676.0 868.0,629.3 869.5,645.3 871.2,678.2 872.1,677.1 874.2,666.5 876.4,632.5 878.5,675.0 881.0,631.5 883.2,672.9 885.9,680.3 888.0,645.3 890.2,628.3 892.3,677.1 894.4,681.4 896.5,632.5 898.7,668.6 900.1,632.5 902.9,677.1 905.7,683.5 907.2,624.0 909.3,672.9 913.5,631.5 915.6,672.9 918.8,666.5 921.0,677.1 923.5,619.8 925.6,672.9 927.3,668.6 930.5,641.0 932.6,673.9 935.8,677.1 938.4,633.6 940.1,677.1 943.2,624.0 945.4,672.9 948.6,651.6 951.7,634.6 953.9,670.7 957.0,629.3 958.7,668.6 960.2,693.0" fill="none" stroke="#20c4c4" stroke-width="2.0" stroke-linejoin="round"/>
<polyline points="1116.9,491.5 1118.2,488.5 1120.0,494.0 1122.5,495.2 1126.1,495.2 1128.0,497.1 1131.1,492.1 1133.5,494.0 1135.4,495.2 1136.0,490.3 1137.2,495.2 1138.4,494.6 1140.0,486.6 1141.5,486.6 1142.8,500.8 1145.2,509.4 1147.1,509.4 1149.5,498.3 1151.4,496.4 1152.6,500.1 1155.0,487.8 1156.5,486.6 1159.4,490.3 1161.2,495.2 1162.4,496.4 1164.3,492.8 1164.9,494.6 1166.1,486.6 1168.0,487.8 1169.8,491.5 1172.9,499.5 1174.7,508.7 1177.2,510.0 1179.0,508.1 1182.0,500.1 1184.1,506.1 1187.1,519.2 1190.1,521.2 1192.1,520.2 1195.1,523.2 1197.1,509.1 1199.5,509.1 1201.2,525.2 1204.2,534.3 1207.2,529.2 1209.2,528.2 1212.2,533.3 1215.2,549.4 1217.3,542.3 1218.9,549.4 1220.3,540.3 1222.3,549.4 1223.7,530.2 1225.3,549.4 1227.7,554.4 1230.3,542.3 1232.3,540.3 1235.0,524.2 1237.4,552.4 1240.4,554.4 1243.4,556.4 1246.4,551.4 1249.4,562.4 1252.5,561.4 1255.5,561.4 1258.5,562.4 1261.5,567.5 1264.5,571.5 1268.6,574.5 1271.5,567.3 1273.0,563.6 1273.7,570.9 1275.9,569.5 1278.8,560.0 1281.8,482.0 1284.5,455.0 1286.7,447.7 1288.0,458.0 1288.8,482.0 1290.9,564.5 1291.9,583.3 1294.1,584.0 1295.5,579.6 1298.5,589.8 1300.6,576.7 1302.1,585.5 1304.3,578.2 1305.7,586.2 1307.5,578.9 1308.6,587.6 1313.0,592.0 1318.8,597.8 1321.7,597.8 1324.6,605.1 1326.8,597.1 1329.0,599.3 1330.5,592.0 1332.2,603.6 1334.1,604.4 1335.5,592.7 1337.0,597.8 1338.5,585.5 1340.6,600.7 1342.2,591.8 1345.6,592.9 1349.0,599.6 1352.3,604.1 1354.5,597.4 1356.8,601.9 1359.0,597.4 1362.4,592.9 1364.2,606.3 1368.0,603.0 1371.3,599.6 1374.7,601.9 1378.0,597.4 1382.1,592.9 1384.7,604.1 1388.1,607.4 1390.3,595.1 1392.6,510.1 1394.8,507.9 1396.4,557.1 1397.7,599.6 1400.0,600.7 1402.6,614.2 1406.0,606.3 1408.2,608.6 1411.1,599.6 1413.8,599.6 1416.1,617.5 1419.4,617.5 1422.8,615.3 1426.1,619.8 1431.7,622.0 1435.1,611.9 1438.6,613.3 1441.3,616.9 1444.8,626.8 1447.2,614.2 1448.4,618.7 1451.1,618.7 1456.5,626.8 1458.3,609.8 1462.7,577.6 1464.5,576.7 1469.0,602.6 1471.7,608.9 1473.5,608.0 1477.0,611.6 1481.5,618.7 1484.2,619.6 1487.8,627.7 1490.5,622.3 1494.0,604.4 1497.6,604.4 1499.4,611.6 1503.0,614.2 1506.6,572.2 1508.3,559.7 1510.1,560.6 1512.8,593.7 1515.5,609.8 1518.2,610.7 1522.7,617.8 1524.4,603.5 1526.2,615.1 1528.9,621.4 1533.4,616.9 1537.0,611.6 1539.7,611.6 1541.4,579.4 1543.2,578.5 1544.5,591.9 1546.8,597.2 1548.0,615.1 1550.7,619.6 1554.3,615.1 1557.9,611.6 1561.5,614.2 1564.2,616.0 1565.9,606.2 1567.2,614.2 1569.0,575.8 1571.3,571.3 1574.0,595.5 1576.7,608.0 1578.5,610.7 1581.1,618.7 1582.9,608.0 1584.4,621.4 1586.2,602.6 1587.4,619.6 1590.1,621.4 1592.8,615.1 1593.7,566.8 1595.8,557.9 1597.2,606.2 1600.8,609.8 1604.4,617.8 1608.0,613.3 1611.6,605.3 1613.3,604.4 1616.0,601.7 1617.8,608.0 1620.5,608.0 1625.0,616.0 1627.7,615.1 1630.3,608.9 1633.0,566.8 1635.2,567.7 1637.5,613.3 1641.1,612.5 1645.0,609.6 1648.0,610.6 1650.0,571.3 1652.0,571.3 1654.1,608.6 1657.1,607.6 1660.1,609.6 1662.1,604.6 1663.5,601.5 1665.5,602.5 1667.1,613.6 1670.2,616.6 1673.2,614.6 1674.8,604.6 1677.2,600.5 1678.8,562.3 1680.8,559.3 1683.3,591.5 1685.3,613.6 1687.3,597.5 1688.9,597.5 1690.3,617.6 1692.3,588.5 1693.3,616.6 1694.3,596.5 1696.3,613.6 1699.4,611.6 1701.4,612.6 1703.0,563.3 1704.4,604.6 1705.4,569.3 1706.4,604.6 1708.4,600.5 1710.4,597.5 1712.4,602.5 1715.1,561.3 1717.5,606.6 1720.5,611.6 1722.5,608.6 1725.1,594.5 1727.5,611.6 1730.0,614.2 1732.7,582.8 1734.0,598.5 1734.9,551.5 1736.7,607.5 1739.0,609.7 1741.2,601.9 1743.0,553.7 1744.6,564.9 1745.7,603.0 1747.9,605.2 1751.3,571.6 1753.5,573.9 1755.1,610.8 1758.0,607.5 1759.8,528.0 1761.8,542.5 1763.1,603.0 1765.8,601.9 1768.1,585.1 1770.3,598.5 1774.3,526.9 1777.0,528.0 1778.1,594.0 1781.0,568.3 1782.3,572.3 1784.8,606.5 1787.6,603.7 1789.5,577.0 1791.4,563.7 1793.3,582.7 1795.2,569.4 1796.7,580.8 1798.1,560.9 1800.0,560.9 1801.9,575.1 1803.8,575.1 1806.6,578.9 1808.5,577.0 1810.0,541.9 1811.4,541.9 1813.3,571.3 1816.1,572.3 1819.0,575.1 1820.9,547.6 1822.2,558.0 1824.1,559.0 1825.6,556.1 1827.5,567.5 1829.0,554.2 1830.4,567.5 1831.7,551.4 1834.2,565.6 1836.1,538.1 1838.0,538.1 1839.3,558.0 1841.8,561.8 1844.6,540.9 1846.2,533.3 1847.5,556.1 1850.3,557.1 1853.2,562.8 1854.5,533.3 1856.0,554.2 1858.0,537.1 1859.8,548.5 1862.0,548.5 1863.9,524.7 1865.8,543.7 1867.7,536.1 1870.6,558.9 1873.4,526.6 1875.7,541.8 1878.2,524.7 1881.0,544.7 1883.9,538.0 1885.8,524.7 1888.6,551.3 1890.5,550.4 1892.4,524.7 1894.3,548.5 1896.2,520.9 1898.5,520.9 1901.0,529.5 1903.8,528.5 1907.2,524.7 1909.1,508.6 1911.0,553.2 1913.7,551.3 1916.2,524.7 1919.0,534.2 1921.9,524.7 1924.7,538.0 1926.6,551.3 1928.9,514.3 1930.8,551.3 1932.7,558.9 1934.2,518.1 1936.1,530.4 1938.0,524.7 1939.9,536.1 1941.8,522.8 1943.7,568.4" fill="none" stroke="#d4c03a" stroke-width="2.0" stroke-linejoin="round"/>
<polyline points="1116.3,557.3 1117.5,559.8 1119.4,554.9 1121.2,554.9 1123.1,559.8 1124.9,559.8 1127.4,557.9 1131.7,561.6 1134.1,559.8 1136.6,561.6 1139.7,554.9 1141.5,560.4 1145.2,563.5 1148.3,565.3 1151.4,568.4 1153.2,562.3 1154.4,564.1 1157.5,557.3 1160.0,551.8 1163.0,551.2 1166.1,543.8 1168.0,550.0 1171.7,568.4 1175.3,575.2 1180.0,575.5 1186.1,584.6 1189.1,578.5 1193.1,578.5 1197.1,588.6 1205.2,597.6 1211.2,593.6 1215.2,604.7 1220.3,606.7 1226.3,616.8 1232.3,615.8 1235.4,621.8 1237.4,616.8 1243.4,625.8 1247.4,628.8 1250.5,622.8 1257.5,628.8 1263.5,630.8 1264.5,626.8 1266.5,633.9 1267.9,635.6 1270.8,638.5 1273.7,634.2 1275.9,622.5 1277.4,603.6 1279.5,560.0 1282.0,500.0 1285.7,451.2 1285.7,468.0 1287.0,480.0 1288.1,564.5 1289.7,622.5 1291.9,656.0 1294.1,658.9 1295.5,651.6 1297.0,662.5 1299.2,661.8 1299.9,642.9 1301.4,650.2 1302.1,642.2 1304.0,642.9 1305.0,651.6 1308.6,651.6 1313.0,662.5 1316.6,661.1 1319.5,661.8 1323.2,664.7 1327.5,665.5 1330.5,669.8 1331.9,663.3 1333.4,666.9 1334.8,662.5 1337.0,666.2 1340.6,663.3 1344.5,669.0 1350.1,666.7 1353.4,672.3 1356.8,664.5 1359.0,672.3 1364.6,672.3 1372.4,677.9 1374.7,669.0 1378.0,675.7 1381.4,674.6 1384.7,675.7 1388.1,669.0 1390.3,624.2 1392.6,512.4 1393.7,552.6 1395.5,664.5 1398.6,674.6 1401.5,679.0 1404.9,674.6 1407.1,671.2 1409.4,679.0 1413.8,677.9 1417.2,681.3 1421.7,682.4 1426.1,675.7 1429.5,683.5 1434.0,677.9 1437.7,683.1 1442.2,689.4 1444.8,686.7 1447.5,676.9 1451.1,681.3 1457.4,672.4 1460.0,647.3 1462.7,609.8 1463.6,640.2 1465.1,611.6 1467.2,654.5 1470.8,676.0 1472.6,676.0 1474.7,667.0 1477.0,676.0 1483.3,680.4 1486.0,677.7 1489.6,681.3 1493.1,677.7 1496.7,681.3 1500.3,681.3 1502.1,674.2 1504.8,647.3 1508.0,581.1 1511.0,640.2 1515.5,681.3 1521.8,676.9 1526.2,681.3 1529.8,684.0 1532.5,679.5 1536.1,686.7 1537.9,683.1 1540.5,633.0 1542.7,606.2 1544.5,654.5 1547.2,685.8 1550.7,678.6 1553.4,681.3 1556.1,673.3 1558.8,682.2 1561.1,676.9 1564.2,681.3 1566.8,678.6 1569.0,618.7 1570.8,599.0 1571.8,634.8 1573.1,665.2 1575.8,674.2 1579.4,679.5 1582.9,678.6 1585.6,683.1 1589.2,680.4 1591.9,667.0 1593.7,596.4 1595.5,665.2 1596.4,613.3 1598.1,672.4 1601.7,669.7 1604.4,677.7 1608.0,679.5 1611.6,683.1 1614.2,676.0 1616.0,654.5 1617.8,676.0 1619.6,672.4 1622.3,678.6 1625.9,676.0 1630.3,677.7 1632.7,676.0 1633.9,609.8 1635.2,643.8 1636.6,677.7 1640.2,682.2 1642.9,677.7 1645.0,681.0 1648.0,668.0 1650.6,610.6 1652.7,669.0 1654.1,683.1 1656.1,686.1 1659.1,673.0 1661.1,681.0 1663.1,675.0 1665.1,683.1 1667.1,677.0 1670.2,679.0 1673.2,681.0 1676.2,679.0 1678.8,589.5 1680.2,677.0 1680.8,632.7 1682.2,675.0 1685.3,681.0 1690.3,681.0 1691.9,629.7 1693.3,679.0 1696.3,679.0 1698.4,671.0 1700.4,683.1 1703.8,608.6 1705.4,673.0 1708.4,677.0 1711.4,681.0 1713.5,627.7 1715.5,625.7 1717.1,673.0 1719.5,675.0 1722.5,681.0 1725.1,657.9 1727.9,681.0 1730.0,683.6 1732.7,614.2 1734.5,629.8 1735.6,679.1 1739.0,679.1 1742.3,679.1 1743.9,601.9 1745.7,679.1 1748.4,684.7 1751.3,605.2 1753.5,672.4 1758.0,678.0 1760.2,603.0 1762.5,667.9 1764.7,670.1 1766.9,683.6 1769.2,663.4 1771.4,672.4 1774.8,594.0 1777.0,672.4 1781.0,589.5 1781.9,672.1 1784.2,675.0 1788.6,667.3 1789.9,624.6 1791.0,618.9 1791.8,588.4 1792.9,643.6 1795.2,645.5 1796.2,601.7 1798.1,580.8 1799.0,622.7 1800.5,646.4 1802.4,617.0 1803.8,643.6 1805.1,620.8 1806.6,643.6 1808.5,639.8 1810.4,568.5 1811.4,588.4 1812.3,639.8 1814.2,624.6 1816.1,626.5 1818.0,646.4 1819.9,577.0 1821.4,566.6 1822.2,607.5 1823.7,632.2 1825.2,609.4 1826.0,584.6 1827.5,617.0 1829.8,618.9 1831.3,580.8 1832.9,618.9 1835.1,617.9 1836.7,565.6 1838.0,626.5 1840.5,620.8 1841.8,636.0 1844.6,569.4 1846.2,561.8 1846.9,617.0 1848.8,599.8 1851.3,626.5 1853.8,626.5 1855.1,562.8 1856.4,615.1 1858.3,584.6 1859.8,626.5 1862.0,583.7 1863.5,625.5 1864.9,579.8 1866.2,570.3 1867.3,606.5 1868.7,567.5 1870.0,621.7 1872.5,624.5 1874.9,551.3 1876.3,602.7 1878.2,584.6 1880.1,598.9 1882.5,586.5 1884.4,612.2 1885.8,558.0 1887.7,617.9 1890.1,604.6 1892.0,551.3 1893.4,610.3 1896.2,614.1 1899.1,551.3 1901.0,614.1 1902.3,569.4 1903.8,617.9 1906.1,587.5 1907.6,614.1 1909.1,560.8 1911.0,616.0 1913.7,554.2 1915.6,612.2 1917.5,593.2 1919.0,610.3 1920.9,577.9 1923.2,595.1 1926.3,616.9 1928.9,558.9 1930.4,617.9 1932.7,614.1 1934.2,558.9 1936.5,606.5 1939.0,576.0 1940.3,604.6 1941.8,598.9 1943.4,591.3 1944.2,640.0 1944.9,659.7" fill="none" stroke="#20c4c4" stroke-width="2.0" stroke-linejoin="round"/>
<path d="M1339.1 586.8 L1348.9 586.8 L1343.9 595.9 Z" fill="#48f2f2"/>
<text x="1342.8" y="582.8" font-family="Liberation Sans, sans-serif" font-size="17" text-anchor="middle" fill="#5ef0f0">1</text>
<path d="M349.3 593.2 L359.3 593.2 L354.3 603.0 Z" fill="#48f2f2"/>
<text x="353.4" y="589.5" font-family="Liberation Sans, sans-serif" font-size="17" text-anchor="middle" fill="#5ef0f0">1</text>
<rect x="257.6" y="241.7" width="70.4" height="58.3" fill="#fff"/>
<text x="292.80" y="257.90" font-family="Liberation Sans, sans-serif" font-size="15.3" fill="#1a2bf2" text-anchor="middle" stroke="#1a2bf2" stroke-width="0.3">440kHz</text>
<text x="292.80" y="275.90" font-family="Liberation Sans, sans-serif" font-size="15.3" fill="#1a2bf2" text-anchor="middle" stroke="#1a2bf2" stroke-width="0.3">switching</text>
<text x="292.80" y="294.20" font-family="Liberation Sans, sans-serif" font-size="15.3" fill="#1a2bf2" text-anchor="middle" stroke="#1a2bf2" stroke-width="0.3">frequency</text>
<line x1="292.8" y1="303.6" x2="292.8" y2="329" stroke="#1a2bf2" stroke-width="2"/>
<path d="M287.3 326.3 L298.3 326.3 L292.8 342.4 Z" fill="#1a2bf2"/>
<text x="173.00" y="442.40" font-family="Liberation Sans, sans-serif" font-size="21" fill="#000" text-anchor="start" stroke="#000" stroke-width="0.35">Peak</text>
<line x1="187.40" y1="452.50" x2="196.04" y2="489.76" stroke="#000" stroke-width="1.6"/>
<path d="M199.20 503.40 L191.41 490.83 L200.67 488.69 Z" fill="#000"/>
<rect x="134" y="641" width="80" height="36.6" fill="#fff"/>
<text x="136.00" y="666.00" font-family="Liberation Sans, sans-serif" font-size="21" fill="#000" text-anchor="start" stroke="#000" stroke-width="0.35">Average</text>
<line x1="216.30" y1="654.50" x2="245.40" y2="632.70" stroke="#000" stroke-width="1.6"/>
<path d="M256.60 624.30 L248.25 636.50 L242.55 628.89 Z" fill="#000"/>
<text x="1164.70" y="440.10" font-family="Liberation Sans, sans-serif" font-size="21" fill="#000" text-anchor="start" stroke="#000" stroke-width="0.35">Peak</text>
<line x1="1182.40" y1="452.70" x2="1191.23" y2="489.39" stroke="#000" stroke-width="1.6"/>
<path d="M1194.50 503.00 L1186.61 490.50 L1195.84 488.28 Z" fill="#000"/>
<rect x="1129" y="640.8" width="80" height="37" fill="#fff"/>
<text x="1131.00" y="665.40" font-family="Liberation Sans, sans-serif" font-size="21" fill="#000" text-anchor="start" stroke="#000" stroke-width="0.35">Average</text>
<line x1="1211.20" y1="654.60" x2="1241.23" y2="631.93" stroke="#000" stroke-width="1.6"/>
<path d="M1252.40 623.50 L1244.09 635.73 L1238.36 628.14 Z" fill="#000"/>
</svg></body></html>
